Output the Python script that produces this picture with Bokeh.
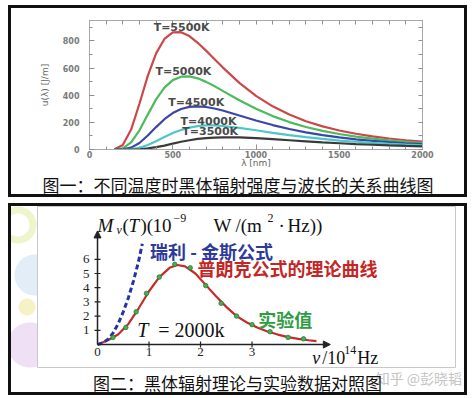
import math
from bokeh.plotting import figure
from bokeh.models import (Range1d, LinearAxis, SingleIntervalTicker, FixedTicker, Label,
                          Arrow, NormalHead)
from bokeh.embed import file_html
from bokeh.resources import INLINE
from bokeh.core.properties import value

# ---------------- Figure 1: spectral energy density vs wavelength ----------------
wavelength_nm = [150, 200, 250, 300, 350, 400, 450, 500, 550, 600, 650, 700, 750, 800,
                 900, 1000, 1100, 1200, 1300, 1400, 1500, 1600, 1700, 1800, 1900, 2000]
u_5500 = [2, 33, 147, 337, 542, 708, 814, 862, 864, 835, 786, 728, 667, 605,
          491, 395, 318, 257, 208, 170, 140, 116, 97, 81, 68, 58]
u_5000 = [0, 9, 52, 141, 257, 369, 456, 511, 536, 539, 524, 498, 467, 432,
          363, 300, 246, 202, 166, 137, 114, 95, 80, 67, 57, 49]
u_4500 = [0, 2, 14, 48, 103, 165, 223, 268, 298, 314, 318, 313, 302, 287,
          250, 214, 180, 151, 126, 106, 89, 75, 64, 54, 46, 40]
u_4000 = [0, 0, 3, 13, 33, 61, 92, 121, 144, 161, 172, 177, 177, 173,
          159, 142, 123, 106, 91, 78, 66, 57, 49, 42, 36, 31]
u_3500 = [0, 0, 0, 2, 8, 17, 29, 43, 57, 68, 78, 84, 88, 90,
          89, 84, 76, 68, 60, 52, 46, 40, 35, 30, 26, 23]
curve_series = [u_5500, u_5000, u_4500, u_4000, u_3500]
curve_names = ["T=5500K", "T=5000K", "T=4500K", "T=4000K", "T=3500K"]
curve_colors = ["#cc4848", "#4cbb5c", "#3c46a4", "#4cc8cc", "#3a3a3a"]
name_x = [553, 564, 641, 715, 725]
name_y = [897, 572, 347, 206, 129]
x_tick_marks = [0, 100, 200, 300, 400, 500, 600, 700, 800, 900, 1000,
                1100, 1200, 1300, 1400, 1500, 1600, 1700, 1800, 1900, 2000]
y_tick_marks = [0, 100, 200, 300, 400, 500, 600, 700, 800, 900]
caption1 = "图一：不同温度时黑体辐射强度与波长的关系曲线图"

# ---------------- Figure 2: theory vs experiment ----------------
nu_theory = [0, 0.2, 0.4, 0.6, 0.8, 1.0, 1.2, 1.4, 1.55, 1.7, 1.9, 2.1, 2.3, 2.5,
             2.7, 2.9, 3.1, 3.3, 3.5, 3.7, 3.9, 4.1, 4.25]
M_theory = [0, 0.3, 0.7, 1.45, 2.55, 3.75, 4.75, 5.4, 5.6, 5.5, 5.0, 4.2, 3.4, 2.65,
            2.0, 1.55, 1.2, 0.92, 0.7, 0.52, 0.4, 0.3, 0.24]
nu_exp = [0.3, 0.55, 0.75, 0.95, 1.2, 1.5, 1.8, 2.1, 2.4, 2.7, 3.0, 3.35, 3.7, 4.0]
M_exp = [0.5, 1.2, 2.3, 3.6, 4.75, 5.65, 5.4, 4.15, 2.9, 2.0, 1.4, 0.9, 0.5, 0.4]
nu_rj = [0, 0.1, 0.2, 0.3, 0.4, 0.5, 0.6, 0.7, 0.8, 0.87]
M_rj = [0, 0.1, 0.35, 0.8, 1.45, 2.3, 3.3, 4.5, 5.9, 7.1]
nu_ticks = [0, 1, 2, 3]
nu_tick_labels = ["0", "1", "2", "3"]
M_ticks = [1, 2, 3, 4, 5, 6]
M_tick_labels = ["1", "2", "3", "4", "5", "6"]
nu_axis_max = 4.52
M_axis_max = 8.0
caption2 = "图二：黑体辐射理论与实验数据对照图"
watermark = "知乎 @彭晓韬"

W = 459
K = "#111"
SHADOW_TOP = f"inset 3px 0 0 {K}, inset -3px 0 0 {K}, inset 0 3px 0 {K}"
SHADOW_BOTTOM = f"inset 3px 0 0 {K}, inset -3px 0 0 {K}, inset 0 -3px 0 {K}"
DECOR = ("radial-gradient(circle at 10px 22px, transparent 0, transparent 11px, "
         "#eef5cc 12px, #eef5cc 18px, transparent 19px), "
         "radial-gradient(circle at 27px 72px, #e2edf8 0, #e2edf8 20px, transparent 21px), "
         "radial-gradient(circle at 19px 104px, #f6f2c8 0, #f6f2c8 8px, transparent 9px), "
         "radial-gradient(circle at 22px 142px, #efe0f5 0, #efe0f5 22px, transparent 23px)")
CJK = "Noto Sans CJK SC"


def caption_fig(height, margin_top=0):
    c = figure(width=W, height=height, x_range=Range1d(0, 1), y_range=Range1d(0, 1),
               output_backend="svg", toolbar_location=None,
               x_axis_location=None, y_axis_location=None,
               min_border_left=0, min_border_right=0, min_border_top=0, min_border_bottom=0)
    c.outline_line_color = None
    c.background_fill_color = None
    c.border_fill_color = None
    c.grid.visible = False
    c.styles = {"background-color": "white", "box-shadow": SHADOW_BOTTOM}
    c.margin = (margin_top, 0, 0, 8)
    return c


# ---------------- panel 1 ----------------
p1 = figure(width=W, height=166, x_range=Range1d(0, 2000), y_range=Range1d(0, 950),
            output_backend="svg", toolbar_location=None,
            min_border_left=81, min_border_right=45, min_border_top=15, min_border_bottom=22)
p1.border_fill_color = None
p1.background_fill_color = "white"
p1.outline_line_color = "#a8a8a8"
p1.grid.visible = False
p1.styles = {"background-color": "white", "box-shadow": SHADOW_TOP}
p1.margin = (5, 0, 0, 8)


def style_axis(ax):
    ax.axis_line_color = "#a8a8a8"
    ax.major_tick_in = 5
    ax.major_tick_out = 0
    ax.minor_tick_in = 3
    ax.minor_tick_out = 0
    ax.major_tick_line_color = "#909090"
    ax.minor_tick_line_color = "#909090"
    ax.major_label_text_font = "DejaVu Sans"
    ax.major_label_text_font_style = "bold"
    ax.major_label_text_font_size = "8px"
    ax.major_label_text_color = "#7a7a7a"
    ax.major_label_standoff = 1


xa1 = p1.xaxis[0]
xa1.ticker = SingleIntervalTicker(interval=500, num_minor_ticks=5)
style_axis(xa1)
xa1.axis_label = "λ [nm]"
xa1.axis_label_standoff = -3
ya1 = p1.yaxis[0]
ya1.ticker = SingleIntervalTicker(interval=200, num_minor_ticks=2)
style_axis(ya1)
ya1.major_label_standoff = 10
ya1.axis_label = "u(λ) [J/m]"
ya1.axis_label_standoff = 10
for ax in (xa1, ya1):
    ax.axis_label_text_font = "DejaVu Sans"
    ax.axis_label_text_font_size = "9px"
    ax.axis_label_text_font_style = "normal"
    ax.axis_label_text_color = "#666666"

# mirrored tick marks on top and right (ticks only, no labels)
top_ax = LinearAxis(ticker=FixedTicker(ticks=[], minor_ticks=x_tick_marks))
right_ax = LinearAxis(ticker=FixedTicker(ticks=[], minor_ticks=y_tick_marks))
for ax in (top_ax, right_ax):
    ax.axis_line_color = "#a8a8a8"
    ax.minor_tick_in = 4
    ax.minor_tick_out = 0
    ax.minor_tick_line_color = "#909090"
p1.add_layout(top_ax, "above")
p1.add_layout(right_ax, "right")

for series, color in zip(curve_series, curve_colors):
    p1.line(wavelength_nm, series, line_color=color, line_width=2.2)

for name, lx, ly in zip(curve_names, name_x, name_y):
    p1.add_layout(Label(x=lx, y=ly, text=name, text_align="center", text_baseline="middle",
                        text_font="DejaVu Sans", text_font_style="bold",
                        text_font_size="11px", text_color="#4a4a4a"))

c1 = caption_fig(26)
c1.add_layout(Label(x=0.500, y=0.49, text=caption1, text_align="center", text_baseline="middle",
                    text_font=CJK, text_font_size="17px", text_color="#111111"))

# ---------------- panel 2 ----------------
p2 = figure(width=W, height=165, x_range=Range1d(-1.165, 6.95), y_range=Range1d(-1.69, 9.72),
            output_backend="svg", toolbar_location=None,
            x_axis_location=None, y_axis_location=None,
            min_border_left=29, min_border_right=12, min_border_top=3, min_border_bottom=0)
p2.border_fill_color = None
p2.background_fill_color = "white"
p2.outline_line_color = "#c8c8c8"
p2.grid.visible = False
p2.styles = {"background-color": "white", "background-image": DECOR,
             "box-shadow": SHADOW_TOP}
p2.margin = (6, 0, 0, 8)

AXC = "#222222"
p2.add_layout(Arrow(end=NormalHead(size=7, fill_color=AXC, line_color=AXC),
                    x_start=0, y_start=0, x_end=nu_axis_max, y_end=0,
                    line_color=AXC, line_width=1.5))
p2.add_layout(Arrow(end=NormalHead(size=7, fill_color=AXC, line_color=AXC),
                    x_start=0, y_start=0, x_end=0, y_end=M_axis_max,
                    line_color=AXC, line_width=1.5))
# tick marks
p2.scatter(nu_ticks[1:], [0] * (len(nu_ticks) - 1), marker="dash", angle=math.pi / 2,
           size=6, line_color=AXC, line_width=1.2)
p2.scatter([0] * len(M_ticks), M_ticks, marker="dash", size=6, line_color=AXC, line_width=1.2)
# tick labels
p2.text(x=nu_ticks, y=[0] * len(nu_ticks), text=nu_tick_labels, text_align="center",
        text_baseline="top", y_offset=3, text_font=value("Liberation Serif"),
        text_font_size=value("13px"), text_color=AXC)
p2.text(x=[0] * len(M_ticks), y=M_ticks, text=M_tick_labels, text_align="right",
        text_baseline="middle", x_offset=-8, text_font=value("Liberation Serif"),
        text_font_size=value("13px"), text_color=AXC)

p2.line(nu_theory, M_theory, line_color="#c62a2a", line_width=2.2)
p2.line(nu_rj, M_rj, line_color="#2432a8", line_width=3, line_dash="5 3")
p2.scatter(nu_exp, M_exp, size=4.5, fill_color="#46b04e", line_color="#2b7a31", line_width=0.8)


def piece(target, x, y, text, size, xo=0, yo=0, italic=False, color="#111111",
          font="Liberation Serif", bold=False, baseline="alphabetic", align="left"):
    style = "italic" if italic else "normal"
    if bold:
        style = "bold"
    target.add_layout(Label(x=x, y=y, x_offset=xo, y_offset=yo, text=text, text_font=font,
                            text_font_size=f"{size}px", text_font_style=style,
                            text_color=color, text_baseline=baseline, text_align=align))


# y-axis title  M_ν(T)(10^-9 W/(m^2·Hz))
ty = 8.38
piece(p2, 0, ty, "M", 19, 0, italic=True)
piece(p2, 0, ty, "ν", 12, 19, -4, italic=True)
piece(p2, 0, ty, "(", 19, 25)
piece(p2, 0, ty, "T", 19, 31, italic=True)
piece(p2, 0, ty, ")(", 19, 43)
piece(p2, 0, ty, "10", 19, 55)
piece(p2, 0, ty, "−9", 12, 76, 8)
piece(p2, 0, ty, "W", 19, 116)
piece(p2, 0, ty, "/(m", 19, 138)
piece(p2, 0, ty, "2", 12, 170, 8)
piece(p2, 0, ty, "·", 19, 181)
piece(p2, 0, ty, "Hz))", 19, 190)

# x-axis title  ν/10^14 Hz
tx, txy = 4.17, -0.95
piece(p2, tx, txy, "ν", 18, 0, italic=True)
piece(p2, tx, txy, "/10", 18, 10)
piece(p2, tx, txy, "14", 12, 32, 8)
piece(p2, tx, txy, "Hz", 18, 45)

# temperature
piece(p2, 0.77, 0.99, "T", 20, 0, italic=True)
piece(p2, 0.77, 0.99, "= 2000k", 20, 21)

# series names
piece(p2, 1.02, 6.62, "瑞利 - 金斯公式", 18, font=CJK, bold=True,
      color="#2c3a9c", baseline="middle")
piece(p2, 1.94, 5.42, "普朗克公式的理论曲线", 18, font=CJK, bold=True,
      color="#c42626", baseline="middle")
piece(p2, 3.12, 1.83, "实验值", 18, font=CJK, bold=True,
      color="#2e9c42", baseline="middle")

c2 = caption_fig(27)
piece(c2, 0.80, 0.63, watermark, 14, font=CJK, color="#c4c4c4", baseline="middle")
piece(c2, 0.499, 0.49, caption2, 17, font=CJK, color="#111111", baseline="middle", align="center")

open("out.html", "w").write(file_html([p1, c1, p2, c2], INLINE))
